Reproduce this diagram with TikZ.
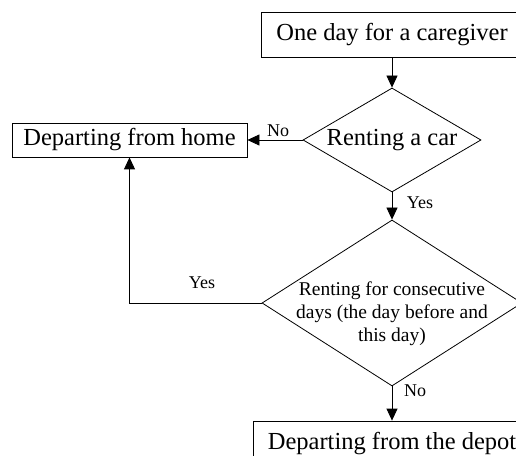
\documentclass[tikz,border=0pt]{standalone}
\usepackage{fontspec}
\setmainfont{Liberation Serif}
\usetikzlibrary{shapes.geometric,arrows.meta}
\begin{document}
\begin{tikzpicture}[x=1pt,y=1pt,
  box/.style={draw, line width=0.8pt, inner sep=0pt, font=\fontsize{24.5}{28}\selectfont},
  dia/.style={draw, diamond, line width=0.8pt, inner sep=0pt},
  conn/.style={line width=0.8pt, -{Triangle[length=12pt,width=11pt]}},
  lbl/.style={font=\fontsize{18}{20}\selectfont, inner sep=0pt}]
\useasboundingbox (0,0) rectangle (516,455);
\clip (0,0) rectangle (516,455);
\node[box, minimum width=262pt, minimum height=45pt] (top) at (392,420.5) {One day for a caregiver};
\node[dia, minimum width=178pt, minimum height=104pt,
  label={[font=\fontsize{24.5}{28}\selectfont, inner sep=0pt]center:Renting a car}] (d1) at (392,315) {};
\node[box, minimum width=235pt, minimum height=34pt] (home) at (129.5,315) {Departing from home};
\node[dia, minimum width=260pt, minimum height=166pt,
  label={[font=\fontsize{19.5}{23}\selectfont, align=center, inner sep=0pt, yshift=-11pt]center:Renting for consecutive\\days (the day before and\\this day)}] (d2) at (392,152) {};
\node[box, minimum width=278pt, minimum height=45pt] (depot) at (392,11.5) {Departing from the depot};
\coordinate (corner) at (home.south |- d2.west);
\draw[conn] (top.south) -- (d1.north);
\draw[conn] (d1.west) -- (home.east);
\draw[conn] (d1.south) -- (d2.north);
\draw[conn] (d2.west) -- (corner) -- (home.south);
\draw[conn] (d2.south) -- (depot.north);
\node[lbl] (l1) at (278,324) {No};
\node[lbl] (l2) at (420,252) {Yes};
\node[lbl] (l3) at (202,172) {Yes};
\node[lbl] (l4) at (415,64) {No};
\end{tikzpicture}
\end{document}
